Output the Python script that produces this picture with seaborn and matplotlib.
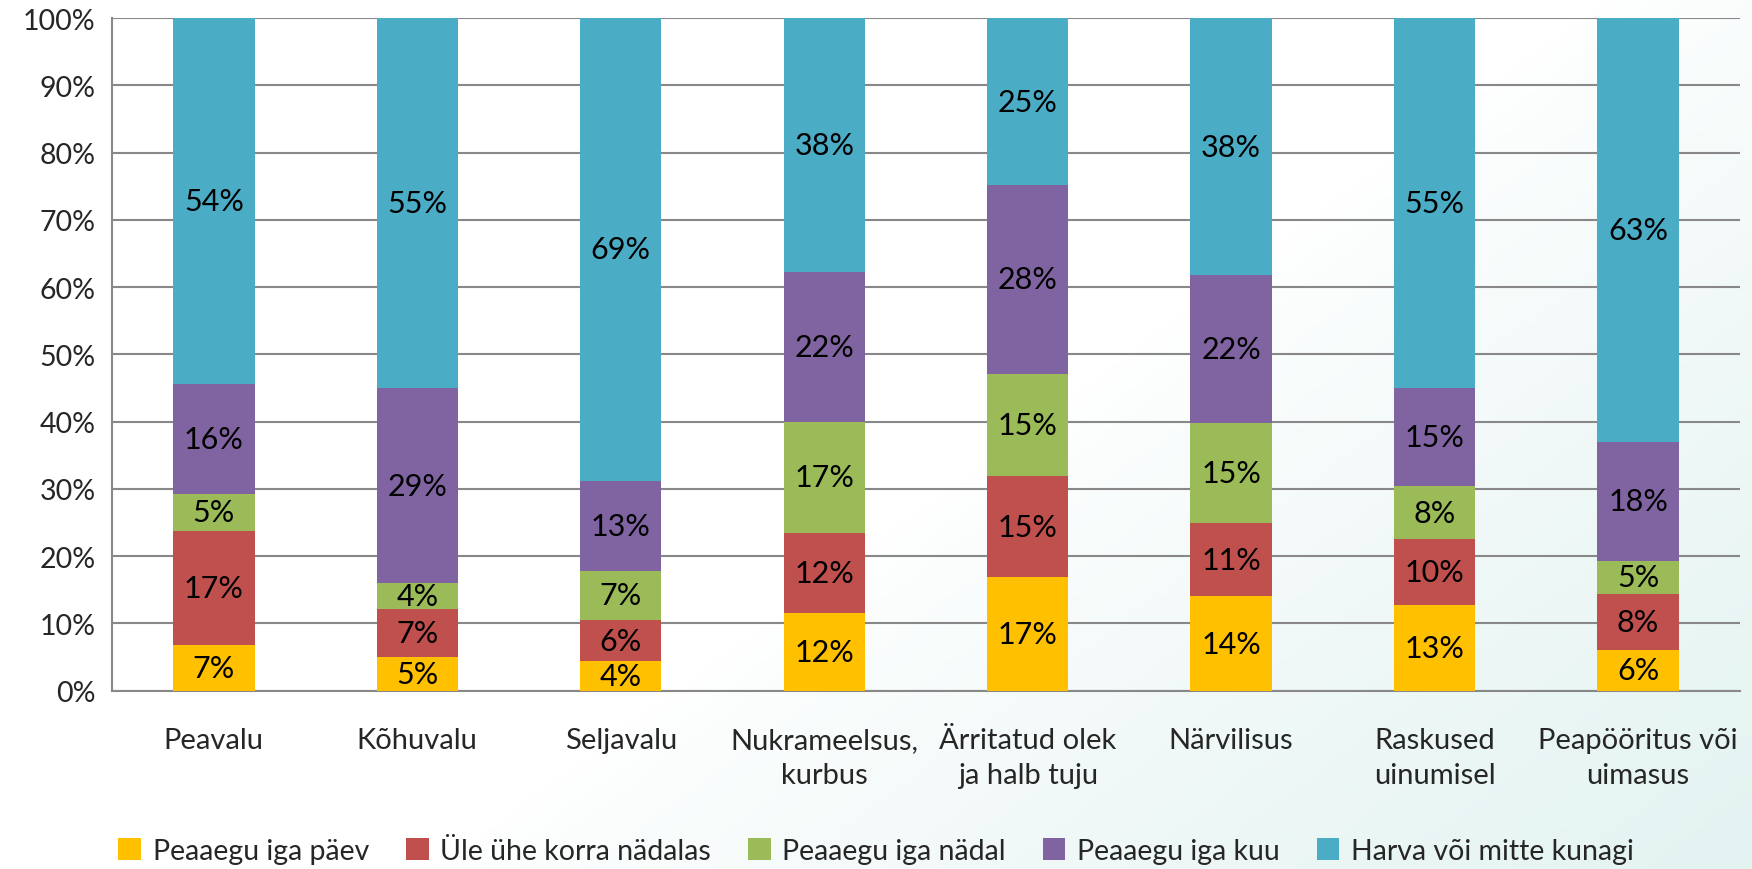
import numpy as np
import pandas as pd
import matplotlib
matplotlib.use("Agg")
import matplotlib.pyplot as plt
from matplotlib.patches import Patch
import seaborn as sns

categories = ["Peavalu", "Kõhuvalu", "Seljavalu", "Nukrameelsus,\nkurbus",
              "Ärritatud olek\nja halb tuju", "Närvilisus", "Raskused\nuinumisel",
              "Peapööritus või\nuimasus"]
series_names = ["Peaaegu iga päev", "Üle ühe korra nädalas", "Peaaegu iga nädal",
                "Peaaegu iga kuu", "Harva või mitte kunagi"]
daily = [6.8, 5.0, 4.4, 11.6, 16.9, 14.0, 12.8, 6.1]
weekly_more = [17.0, 7.2, 6.1, 11.8, 15.0, 11.0, 9.7, 8.3]
weekly = [5.4, 3.8, 7.3, 16.6, 15.2, 14.8, 7.9, 4.9]
monthly = [16.4, 29.0, 13.4, 22.2, 28.1, 22.0, 14.6, 17.7]
rarely = [54.4, 55.0, 68.8, 37.8, 24.8, 38.2, 55.0, 63.0]
yticks = [0, 10, 20, 30, 40, 50, 60, 70, 80, 90, 100]

colors = ["#FFC000", "#C0504D", "#9BBB59", "#8064A2", "#4BACC6"]
series = [daily, weekly_more, weekly, monthly, rarely]

sns.set_theme(style="white")
plt.rcParams["font.family"] = ["Lato", "DejaVu Sans"]

fig = plt.figure(figsize=(17.52, 8.70), dpi=100)

# subtle background gradient
bg = fig.add_axes([0, 0, 1, 1], zorder=-10)
xx, yy = np.meshgrid(np.linspace(0, 1, 300), np.linspace(0, 1, 150))
g = np.clip((xx * 1.2 + yy * 0.8 - 1.1), 0, 1)
g = g ** 0.8
rgb = np.ones((150, 300, 3))
tint = np.array([0.88, 0.95, 0.94])
for c in range(3):
    rgb[..., c] = 1 - g * (1 - tint[c])
bg.imshow(rgb, aspect="auto", extent=[0, 1, 0, 1], origin="upper")
bg.axis("off")

ax = fig.add_axes([0.064, 0.205, 0.929, 0.773])
ax.set_facecolor("none")

df = pd.DataFrame({"cat": categories})
cum = np.cumsum(np.array(series), axis=0)
for i in range(len(series) - 1, -1, -1):
    df["v"] = cum[i]
    sns.barplot(data=df, x="cat", y="v", color=colors[i], width=0.4,
                saturation=1, ax=ax, zorder=3, linewidth=0)

for i, vals in enumerate(series):
    for j, v in enumerate(vals):
        mid = cum[i][j] - v / 2
        ax.text(j, mid, f"{round(v):d}%", ha="center", va="center",
                fontsize=22, color="black", zorder=5)

ax.set_ylim(0, 100)
ax.set_xlim(-0.5, len(categories) - 0.5)
ax.set_yticks(yticks)
ax.set_yticklabels([f"{t}%" for t in yticks], fontsize=20.5)
ax.set_xticks(range(len(categories)))
ax.set_xticklabels(categories, fontsize=21, linespacing=1.45)
ax.set_xlabel("")
ax.set_ylabel("")
ax.set_xticks(np.arange(-0.5, len(categories), 1), minor=True)
ax.tick_params(axis="x", which="major", length=0, pad=26)
ax.tick_params(axis="x", which="minor", length=8, width=1.5, color="#888888", direction="out")
ax.tick_params(axis="y", length=8, width=1.5, color="#888888", direction="out", pad=4)
ax.grid(axis="y", color="#888888", linewidth=1.5, zorder=0)
ax.set_axisbelow(True)
for s in ["top", "right"]:
    ax.spines[s].set_visible(False)
for s in ["left", "bottom"]:
    ax.spines[s].set_color("#888888")
    ax.spines[s].set_linewidth(1.5)

handles = [Patch(facecolor=c, edgecolor="none") for c in colors]
fig.legend(handles, series_names, loc="lower center", ncol=5, frameon=False,
           fontsize=20.5, bbox_to_anchor=(0.5, -0.024), handlelength=0.8,
           handleheight=0.8, handletextpad=0.4, columnspacing=1.3)

fig.savefig("out.png", dpi=100)
